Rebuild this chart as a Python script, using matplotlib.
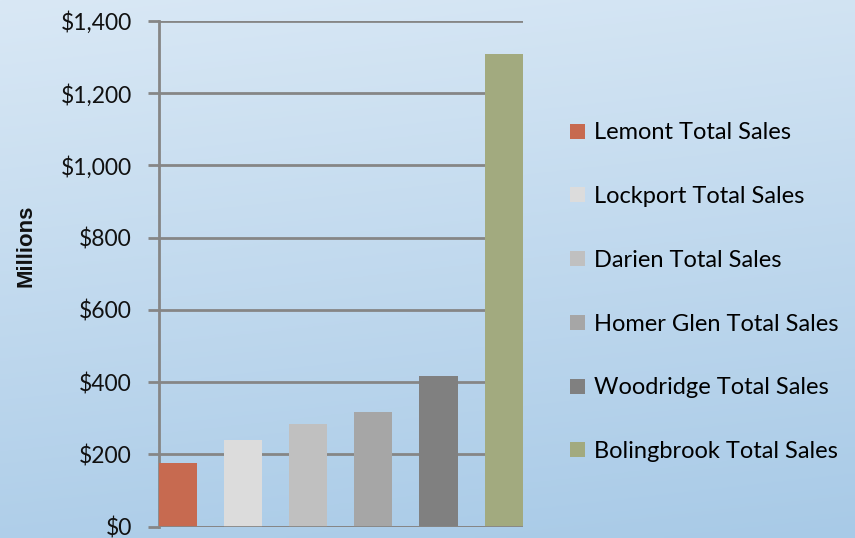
import matplotlib.pyplot as plt
import numpy as np
from matplotlib.patches import Patch
from matplotlib.ticker import FuncFormatter

towns = ['Lemont', 'Lockport', 'Darien', 'Homer Glen', 'Woodridge', 'Bolingbrook']
sales = [176, 240, 284, 318, 417, 1309]
colors = ['#C76A50', '#DCDCDC', '#C0C0C0', '#A6A6A6', '#808080', '#A2AA7F']
yticks = [0, 200, 400, 600, 800, 1000, 1200, 1400]

plt.rcParams['font.family'] = ['Lato', 'DejaVu Sans']

fig = plt.figure(figsize=(8.55, 5.38), dpi=100)

# background gradient
bg = fig.add_axes([0, 0, 1, 1], zorder=-10)
yy, xx = np.mgrid[0:1:200j, 0:1:200j]
t = 0.85 * yy + 0.15 * xx
top = np.array([0xd9, 0xe8, 0xf5]) / 255
bot = np.array([0xa8, 0xca, 0xe7]) / 255
img = top[None, None, :] * (1 - t[..., None]) + bot[None, None, :] * t[..., None]
bg.imshow(img, aspect='auto', extent=[0, 1, 1, 0])
bg.set_axis_off()

ax = fig.add_axes([159 / 855, 1 - 526.7 / 538, (522.7 - 159) / 855, (526.7 - 21) / 538])
ax.patch.set_alpha(0)
width = 0.585
x = np.arange(len(towns))
ax.bar(x, sales, width=width, color=colors, zorder=3)
ax.set_xlim(-width / 2, len(towns) - 1 + width / 2)
ax.set_ylim(0, 1400)
ax.set_yticks(yticks)
ax.yaxis.set_major_formatter(FuncFormatter(lambda v, p: '${:,.0f}'.format(v)))
ax.set_xticks([])
ax.grid(axis='y', color='#868686', linewidth=2, zorder=1)
for s in ['top', 'right', 'bottom']:
    ax.spines[s].set_visible(False)
ax.spines['left'].set_color('#868686')
ax.spines['left'].set_linewidth(2)
ax.axhline(0, color='#868686', linewidth=2, zorder=4)
ax.tick_params(axis='y', length=8, width=2, color='#868686', pad=11.5, labelsize=16.5, labelcolor='#111111')
fig.text(26 / 855, 1 - 246 / 538, 'Millions', family='Liberation Sans', fontweight='bold',
         fontsize=16, rotation=90, ha='center', va='center', color='#111111')

handles = [Patch(facecolor=c, label=t + ' Total Sales') for t, c in zip(towns, colors)]
fig.legend(handles=handles, loc='upper left', bbox_to_anchor=(561 / 855, 1 - 113 / 538),
           frameon=False, fontsize=17, handlelength=0.6, handleheight=0.6,
           handletextpad=0.4, labelspacing=1.81, borderaxespad=0)

fig.savefig('out.png', dpi=100)
